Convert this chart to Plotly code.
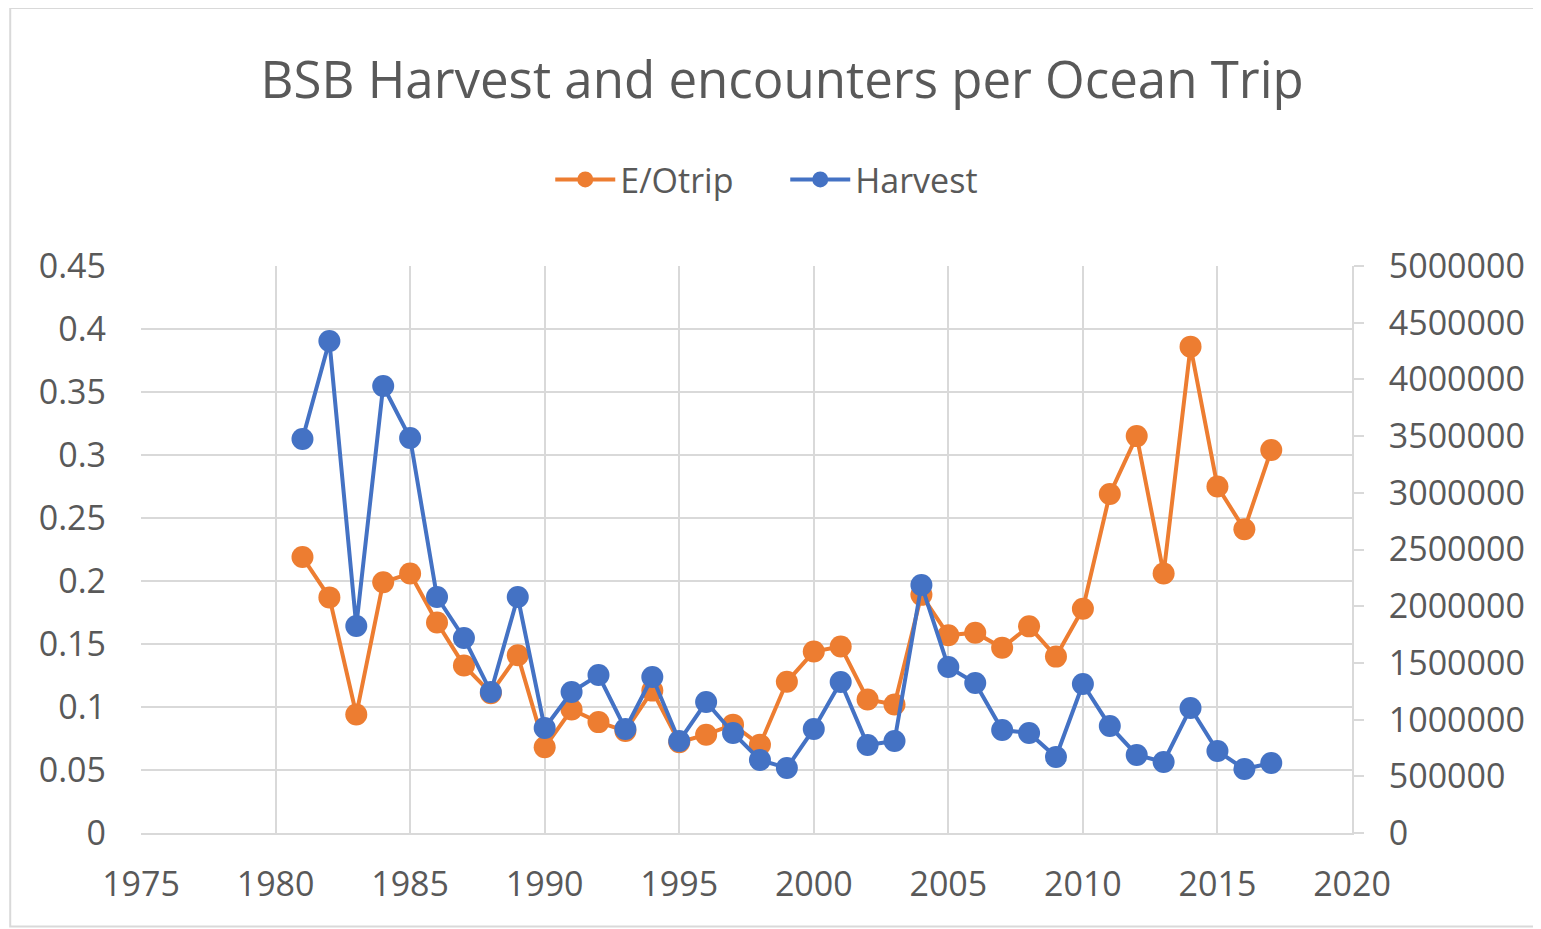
import plotly.graph_objects as go

years = list(range(1981, 2018))
e_otrip = [0.219, 0.187, 0.094, 0.199, 0.206, 0.167, 0.133, 0.111, 0.141, 0.068,
           0.098, 0.088, 0.081, 0.113, 0.072, 0.078, 0.086, 0.070, 0.120, 0.144,
           0.148, 0.106, 0.102, 0.189, 0.157, 0.159, 0.147, 0.164, 0.140, 0.178,
           0.269, 0.315, 0.206, 0.386, 0.275, 0.241, 0.304]
harvest = [3474000, 4339000, 1825000, 3942000, 3483000, 2081000, 1720000, 1243000,
           2081000, 926000, 1243000, 1393000, 917000, 1376000, 811000, 1155000,
           882000, 644000, 573000, 917000, 1332000, 776000, 811000, 2187000,
           1464000, 1323000, 908000, 882000, 670000, 1314000, 944000, 688000,
           626000, 1102000, 723000, 564000, 617000]

ORANGE = "#ED7D31"
BLUE = "#4472C4"
GRID = "#D9D9D9"
TEXT = "#595959"
FONT = "Open Sans"

fig = go.Figure()
fig.add_trace(go.Scatter(x=years, y=e_otrip, name="E/Otrip", mode="lines+markers",
                         line=dict(color=ORANGE, width=4),
                         marker=dict(color=ORANGE, size=22)))
fig.add_trace(go.Scatter(x=years, y=harvest, name="Harvest", mode="lines+markers",
                         yaxis="y2",
                         line=dict(color=BLUE, width=4),
                         marker=dict(color=BLUE, size=22)))

fig.update_layout(
    width=1533, height=921,
    margin=dict(l=133, r=189, t=258, b=96),
    paper_bgcolor="white", plot_bgcolor="white",
    font=dict(family=FONT, color=TEXT, size=34),
    title=dict(text="BSB Harvest and encounters per Ocean Trip",
               x=0.505, xanchor="center", y=0.922, yanchor="middle",
               font=dict(size=51, color=TEXT, family=FONT)),
    legend=dict(orientation="h", x=0.532, xanchor="center",
                y=1.152, yanchor="middle", font=dict(size=34),
                itemwidth=60, entrywidth=160, entrywidthmode="pixels",
                bgcolor="rgba(0,0,0,0)"),
    xaxis=dict(range=[1975, 2020], dtick=5, tick0=1975,
               showgrid=True, gridcolor=GRID, gridwidth=2,
               showline=True, linecolor=GRID, linewidth=2,
               zeroline=False, ticks="", ticklabelstandoff=20),
    yaxis=dict(range=[0, 0.45], dtick=0.05,
               showgrid=True, gridcolor=GRID, gridwidth=2,
               zeroline=False, showline=False, ticks="",
               ticklabelstandoff=34),
    yaxis2=dict(range=[0, 5000000], dtick=500000, overlaying="y", side="right",
                showgrid=False, zeroline=False,
                showline=True, linecolor=GRID, linewidth=2,
                ticks="outside", ticklen=10, tickcolor=GRID, tickwidth=2,
                tickformat="d", ticklabelstandoff=18),
    shapes=[dict(type="rect", xref="paper", yref="paper",
                 x0=-0.108, x1=1.1536, y0=-0.165, y1=1.455,
                 line=dict(color=GRID, width=2), layer="below")],
)

fig.write_html("out.html")
